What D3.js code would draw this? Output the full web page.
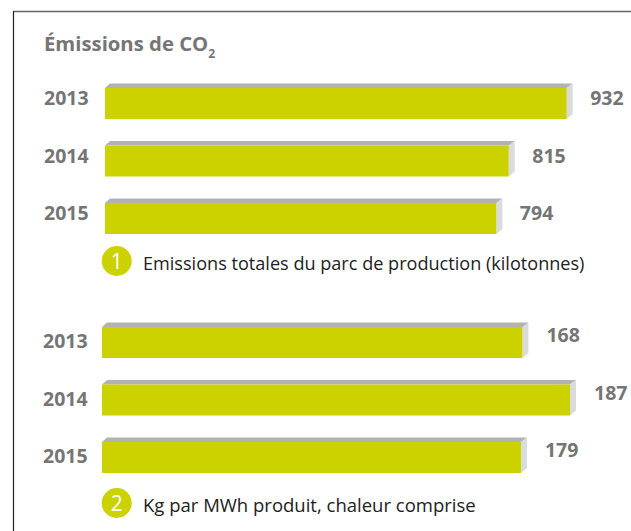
<!DOCTYPE html>
<html><head><meta charset="utf-8">
<script src="https://cdnjs.cloudflare.com/ajax/libs/d3/7.8.5/d3.min.js"></script>
<style>html,body{margin:0;padding:0;background:#fff}svg{display:block}text{font-family:"Open Sans",sans-serif}</style>
</head><body><div id="c"></div>
<script>
const years = ["2013", "2014", "2015"];
const title = "Émissions de CO";
const titleSub = "2";
// printed figures
const totalLabels = [932, 815, 794];
const specificLabels = [168, 187, 179];
// bar lengths as drawn in the picture, read against each panel's axis
const totalDrawn = [932, 815, 790];
const specificDrawn = [168, 187, 167.4];
const caption1 = "Emissions totales du parc de production (kilotonnes)";
const caption2 = "Kg par MWh produit, chaleur comprise";

const W = 631, H = 531;
const svg = d3.select("#c").append("svg").attr("width", W).attr("height", H);
svg.append("line").attr("x1",13.5).attr("x2",W).attr("y1",11.5).attr("y2",11.5).attr("stroke","#666").attr("stroke-width",1.4);
svg.append("line").attr("x1",13.5).attr("x2",13.5).attr("y1",11).attr("y2",H).attr("stroke","#222").attr("stroke-width",1.2);

const t = svg.append("text").attr("x",44).attr("y",51).attr("fill","#757575").attr("font-size",20.3).attr("font-weight",700);
t.append("tspan").text(title);
t.append("tspan").attr("dy",7).attr("font-size",12).text(titleSub);

const depth = 5, barH = 31, step = 57.5;
function panel(o){
  const x = d3.scaleLinear().domain([0,o.max]).range([o.x0,o.x1]);
  const y = d3.scaleBand().domain(years).range([o.top, o.top+step*2+barH]).paddingInner(1-barH/step).paddingOuter(0);
  const g = svg.append("g");
  const rows = g.selectAll("g").data(years.map((yr,i)=>({yr,drawn:o.drawn[i],label:o.labels[i]}))).join("g");
  rows.append("polygon").attr("fill","#b2b2b2").attr("points",d=>{const X=x(d.drawn),Y=y(d.yr);
    return [[o.x0,Y],[o.x0+depth,Y-depth+.5],[X+depth+1,Y-depth+.5],[X,Y]].join(" ");});
  rows.append("polygon").attr("fill","#dadbdc").attr("points",d=>{const X=x(d.drawn),Y=y(d.yr);
    return [[X,Y],[X+depth+1,Y-depth+.5],[X+depth+1,Y+barH-depth],[X,Y+barH]].join(" ");});
  rows.append("rect").attr("fill","#ccd100").attr("x",o.x0).attr("y",d=>y(d.yr)).attr("height",barH).attr("width",d=>x(d.drawn)-o.x0);
  rows.append("text").attr("x",o.yearX).attr("y",d=>y(d.yr)+o.yearDy).attr("fill","#757575").attr("font-size",19.5).attr("font-weight",700).text(d=>d.yr);
  rows.append("text").attr("x",d=>x(d.drawn)+o.valDx).attr("y",d=>y(d.yr)+o.valDy).attr("fill","#757575").attr("font-size",19.5).attr("font-weight",700).text(d=>d.label);
  const cy = o.capY;
  g.append("circle").attr("cx",116.7).attr("cy",cy).attr("r",15).attr("fill","#ccd100");
  g.append("text").attr("x",116.7).attr("y",cy+7.5).attr("text-anchor","middle").attr("fill","#fff").attr("font-size",21).text(o.num);
  g.append("text").attr("x",143).attr("y",cy+9).attr("fill","#222").attr("font-size",o.capSize).text(o.caption);
}
panel({top:88,x0:105,x1:566.7,max:932,drawn:totalDrawn,labels:totalLabels,yearX:44,yearDy:17,valDx:23.5,valDy:17,capY:261,num:"1",caption:caption1,capSize:18.1});
panel({top:327,x0:102,x1:570,max:187,drawn:specificDrawn,labels:specificLabels,yearX:43,yearDy:21,valDx:24,valDy:15,capY:503,num:"2",caption:caption2,capSize:18.5});
</script></body></html>
